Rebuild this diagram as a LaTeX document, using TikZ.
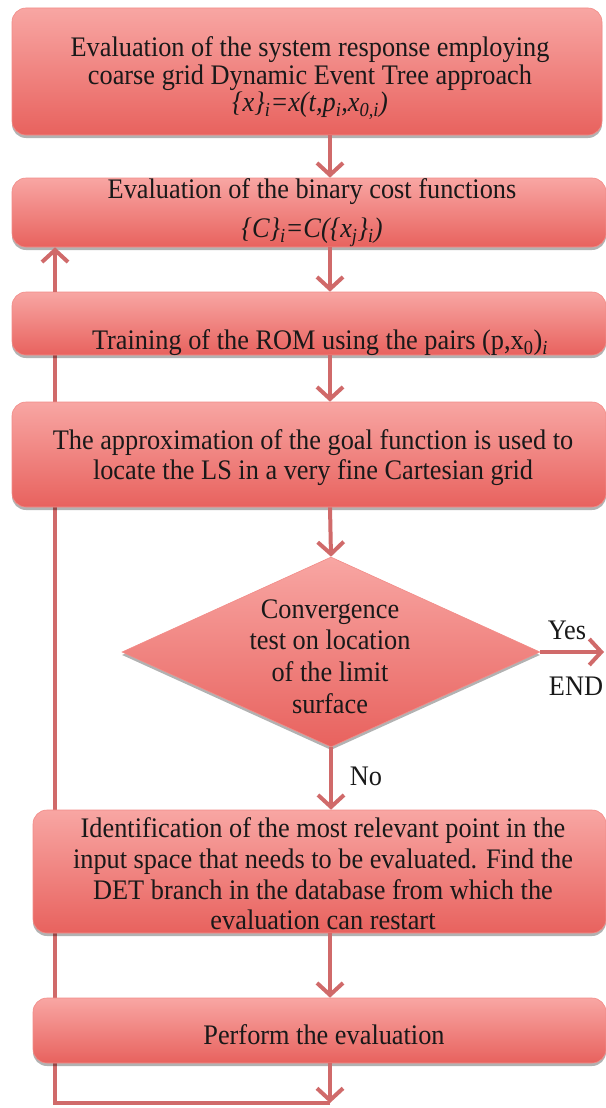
\documentclass[tikz,border=0pt]{standalone}
\usepackage{fontspec}
\setmainfont[FakeStretch=0.93]{Liberation Serif}
\usetikzlibrary{shapes.geometric,arrows.meta,shadows,backgrounds}
\definecolor{boxtop}{HTML}{F8A6A3}
\definecolor{boxbot}{HTML}{E8625E}
\definecolor{arrc}{HTML}{D06A6A}
\begin{document}
\begin{tikzpicture}[x=1pt,y=1pt,
  box/.style={rectangle, rounded corners=14pt, top color=boxtop, bottom color=boxbot,
    draw=boxtop!60!boxbot, line width=0.6pt,
    drop shadow={shadow xshift=0pt, shadow yshift=-3pt, opacity=0.3, fill=black},
    inner sep=0pt},
  decision/.style={diamond, top color=boxtop, bottom color=boxbot,
    draw=boxtop!60!boxbot, line width=0.6pt,
    drop shadow={shadow xshift=0pt, shadow yshift=-3pt, opacity=0.3, fill=black},
    inner sep=0pt, minimum width=418pt, minimum height=190pt},
  txt/.style={align=center, font=\fontsize{28.3}{30}\selectfont, text=black!90, inner sep=0pt},
  arr/.style={draw=arrc, line width=4pt, -{Straight Barb[length=12pt,width=26pt]}},
  ln/.style={draw=arrc, line width=4pt},
]
\useasboundingbox (0,0) rectangle (605,-1108);
\coordinate (axis) at (330,0);

% boxes
\node[box, minimum width=590pt, minimum height=127pt] (b1) at (307,-71.5) {};
\node[box, minimum width=594pt, minimum height=69pt] (b2) at (309,-212.5) {};
\node[box, minimum width=594pt, minimum height=63pt] (b3) at (309,-323.5) {};
\node[box, minimum width=594pt, minimum height=105pt] (b4) at (309,-454.5) {};
\node[decision] (dia) at (331,-652) {};
\node[box, minimum width=573pt, minimum height=123pt] (b5) at (319.5,-871.5) {};
\node[box, minimum width=573pt, minimum height=65pt] (b6) at (319.5,-1030.5) {};

% texts
\node[txt, font=\fontsize{28.3}{27.5}\selectfont] (t1) at (310,-78)
  {Evaluation of the system response employing\\
   coarse grid Dynamic Event Tree approach\\
   \textit{\{x\}\textsubscript{i}=x(t,p\textsubscript{i},x\textsubscript{0,i})}};
\node[txt] (t2) at (312,-212.5)
  {Evaluation of the binary cost functions\\[9pt]
   \textit{\{C\}\textsubscript{i}=C(\{x\textsubscript{j}\}\textsubscript{i})}};
\node[txt] (t3) at (320,-343)
  {Training of the ROM using the pairs (p,x\textsubscript{0})\textsubscript{\textit{i}}};
\node[txt] (t4) at (313,-458)
  {The approximation of the goal function is used to\\
   locate the LS in a very fine Cartesian grid};
\node[txt, font=\fontsize{28.3}{31.7}\selectfont] (td) at (330,-656.5)
  {Convergence\\ test on location\\ of the limit\\ surface};
\node[txt, font=\fontsize{28.3}{30.7}\selectfont] (t5) at (323,-874)
  {Identification of the most relevant point in the\\
   input space that needs to be evaluated. Find the\\
   DET branch in the database from which the\\
   evaluation can restart};
\node[txt] (t6) at (324,-1035) {Perform the evaluation};

% connectors
\coordinate (yesend) at (604,-652);
\coordinate (bot) at (330,-1103);
\coordinate (botl) at (55,-1103);
\draw[arr] (b1.south -| axis) -- (b2.north -| axis);
\draw[arr] (b2.south -| axis) -- (b3.north -| axis);
\draw[arr] (b3.south -| axis) -- (b4.north -| axis);
\draw[arr] (b4.south -| axis) -- (dia.north);
\draw[arr] (dia.south) -- (b5.north -| dia.south);
\draw[arr] (b5.south -| axis) -- (b6.north -| axis);
\draw[arr] (b6.south -| axis) -- (bot);
\draw[arr] (dia.east) -- (yesend);
\begin{pgfonlayer}{background}
  \draw[ln, line join=miter] (bot) -- (botl) -- (botl |- b3.north);
\end{pgfonlayer}
\draw[arr] (botl |- b3.north) -- (botl |- b2.south);

\node[txt] (yes) at (567,-630) {Yes};
\node[txt] (end) at (576,-686) {END};
\node[txt] (no) at (366,-776) {No};
\end{tikzpicture}
\end{document}
